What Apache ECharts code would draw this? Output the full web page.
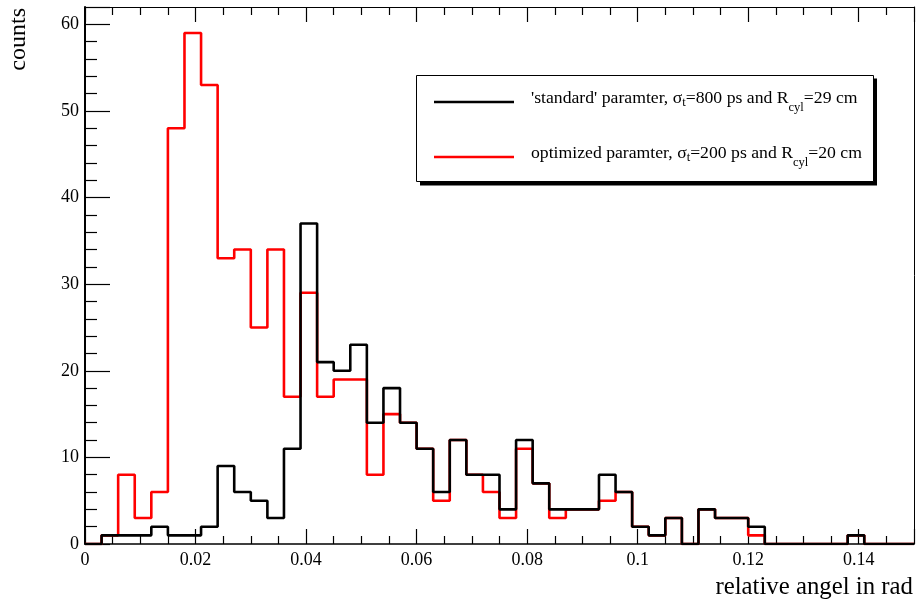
<!DOCTYPE html>
<html>
<head>
<meta charset="utf-8">
<script src="https://cdn.jsdelivr.net/npm/echarts@6/dist/echarts.min.js"></script>
<style>
html, body { margin: 0; padding: 0; background: #ffffff; }
#chart { width: 916px; height: 601px; }
</style>
</head>
<body>
<div id="chart"></div>
<script>
// Bin edges of the histogram (relative angle in rad), 50 bins of width 0.003 plus the closing edge
const binEdges = [
  0.000, 0.003, 0.006, 0.009, 0.012, 0.015, 0.018, 0.021, 0.024, 0.027,
  0.030, 0.033, 0.036, 0.039, 0.042, 0.045, 0.048, 0.051, 0.054, 0.057,
  0.060, 0.063, 0.066, 0.069, 0.072, 0.075, 0.078, 0.081, 0.084, 0.087,
  0.090, 0.093, 0.096, 0.099, 0.102, 0.105, 0.108, 0.111, 0.114, 0.117,
  0.120, 0.123, 0.126, 0.129, 0.132, 0.135, 0.138, 0.141, 0.144, 0.147,
  0.150
];

// 'standard' parameter counts per bin (black)
const standardCounts = [
  0, 1, 1, 1, 2, 1, 1, 2, 9, 6,
  5, 3, 11, 37, 21, 20, 23, 14, 18, 14,
  11, 6, 12, 8, 8, 4, 12, 7, 4, 4,
  4, 8, 6, 2, 1, 3, 0, 4, 3, 3,
  2, 0, 0, 0, 0, 0, 1, 0, 0, 0
];

// optimized parameter counts per bin (red)
const optimizedCounts = [
  0, 1, 8, 3, 6, 48, 59, 53, 33, 34,
  25, 34, 17, 29, 17, 19, 19, 8, 15, 14,
  11, 5, 12, 8, 6, 3, 11, 7, 3, 4,
  4, 5, 6, 2, 1, 3, 0, 4, 3, 3,
  1, 0, 0, 0, 0, 0, 1, 0, 0, 0
];

const seriesNames = [
  "'standard' paramter, σt=800 ps and Rcyl=29 cm",
  "optimized paramter, σt=200 ps and Rcyl=20 cm"
];
const legendLabels = [
  "'standard' paramter, σ{st|t}=800 ps and R{sc|cyl}=29 cm",
  "optimized paramter, σ{st|t}=200 ps and R{sc|cyl}=20 cm"
];
const xAxisTitle = 'relative angel in rad';
const yAxisTitle = 'counts';

const FONT = "'Liberation Serif', 'DejaVu Serif', serif";

function toSteps(counts) {
  return binEdges.map(function (x, i) {
    return [x, i < counts.length ? counts[i] : counts[counts.length - 1]];
  });
}

const chart = echarts.init(document.getElementById('chart'), null, { renderer: 'canvas' });

const axisLabelStyle = { fontFamily: FONT, fontSize: 18, color: '#000' };

const option = {
  animation: false,
  backgroundColor: '#ffffff',
  grid: { left: 85, right: 2, top: 7, bottom: 57, containLabel: false },
  xAxis: [
    {
      type: 'value', position: 'bottom', min: 0, max: 0.15, interval: 0.02,
      axisLine: { show: true, onZero: false, lineStyle: { color: '#000', width: 1.5 } },
      axisTick: { show: true, inside: true, length: 15, lineStyle: { color: '#000', width: 1.2 } },
      minorTick: { show: true, splitNumber: 4, length: 8, lineStyle: { color: '#000', width: 1.2 } },
      axisLabel: Object.assign({ margin: 7, showMaxLabel: false }, axisLabelStyle),
      splitLine: { show: false }, minorSplitLine: { show: false }
    },
    {
      type: 'value', position: 'top', min: 0, max: 0.15, interval: 0.02,
      axisLine: { show: true, onZero: false, lineStyle: { color: '#000', width: 1 } },
      axisTick: { show: true, inside: true, length: 15, lineStyle: { color: '#000', width: 1.2 } },
      minorTick: { show: true, splitNumber: 4, length: 8, lineStyle: { color: '#000', width: 1.2 } },
      axisLabel: { show: false },
      splitLine: { show: false }, minorSplitLine: { show: false }
    }
  ],
  yAxis: [
    {
      type: 'value', position: 'left', min: 0, max: 62, interval: 10,
      axisLine: { show: true, onZero: false, lineStyle: { color: '#000', width: 2 } },
      axisTick: { show: true, inside: true, length: 25, lineStyle: { color: '#000', width: 1.2 } },
      minorTick: { show: true, splitNumber: 5, length: 12, lineStyle: { color: '#000', width: 1.2 } },
      axisLabel: Object.assign({ margin: 6, showMaxLabel: false }, axisLabelStyle),
      splitLine: { show: false }, minorSplitLine: { show: false }
    },
    {
      type: 'value', position: 'right', min: 0, max: 62, interval: 10,
      axisLine: { show: true, onZero: false, lineStyle: { color: '#000', width: 1 } },
      axisTick: { show: false }, axisLabel: { show: false },
      splitLine: { show: false }
    }
  ],
  legend: {
    data: [seriesNames[0], seriesNames[1]],
    orient: 'vertical',
    left: 434, top: 80.5,
    padding: 0,
    itemWidth: 80, itemHeight: 2.5, itemGap: 13,
    icon: 'rect',
    selectedMode: false,
    formatter: function (name) { return legendLabels[seriesNames.indexOf(name)]; },
    textStyle: {
      fontFamily: FONT, fontSize: 17.7, color: '#000', lineHeight: 33,
      padding: [0, 0, 8, 12],
      rich: {
        st: { fontFamily: FONT, fontSize: 12.5, lineHeight: 12, padding: [9, 0, 0, 0], verticalAlign: 'middle', color: '#000' },
        sc: { fontFamily: FONT, fontSize: 12.5, lineHeight: 12, padding: [21, 0, 0, 0], verticalAlign: 'bottom', color: '#000' }
      }
    }
  },
  graphic: [
    { type: 'rect', z: 0, silent: true, shape: { x: 420, y: 78.5, width: 457, height: 107 }, style: { fill: '#000' } },
    { type: 'rect', z: 1, silent: true, shape: { x: 416.5, y: 75.5, width: 457, height: 106 }, style: { fill: '#fff', stroke: '#000', lineWidth: 1 } },
    { type: 'text', z: 5, silent: true, x: 913, y: 587, style: { text: xAxisTitle, font: '24.8px ' + FONT, fill: '#000', align: 'right', verticalAlign: 'middle' } },
    { type: 'text', z: 5, silent: true, x: 19, y: 8, rotation: Math.PI / 2, style: { text: yAxisTitle, font: '24px ' + FONT, fill: '#000', align: 'right', verticalAlign: 'middle' } }
  ],
  series: [
    {
      name: seriesNames[1], type: 'line', step: 'end', data: toSteps(optimizedCounts),
      xAxisIndex: 0, yAxisIndex: 0, symbol: 'none', showSymbol: false,
      color: '#ff0000', lineStyle: { color: '#ff0000', width: 2.6 }, z: 2
    },
    {
      name: seriesNames[0], type: 'line', step: 'end', data: toSteps(standardCounts),
      xAxisIndex: 0, yAxisIndex: 0, symbol: 'none', showSymbol: false,
      color: '#000000', lineStyle: { color: '#000000', width: 2.6 }, z: 3
    }
  ]
};

chart.setOption(option);
</script>
</body>
</html>
